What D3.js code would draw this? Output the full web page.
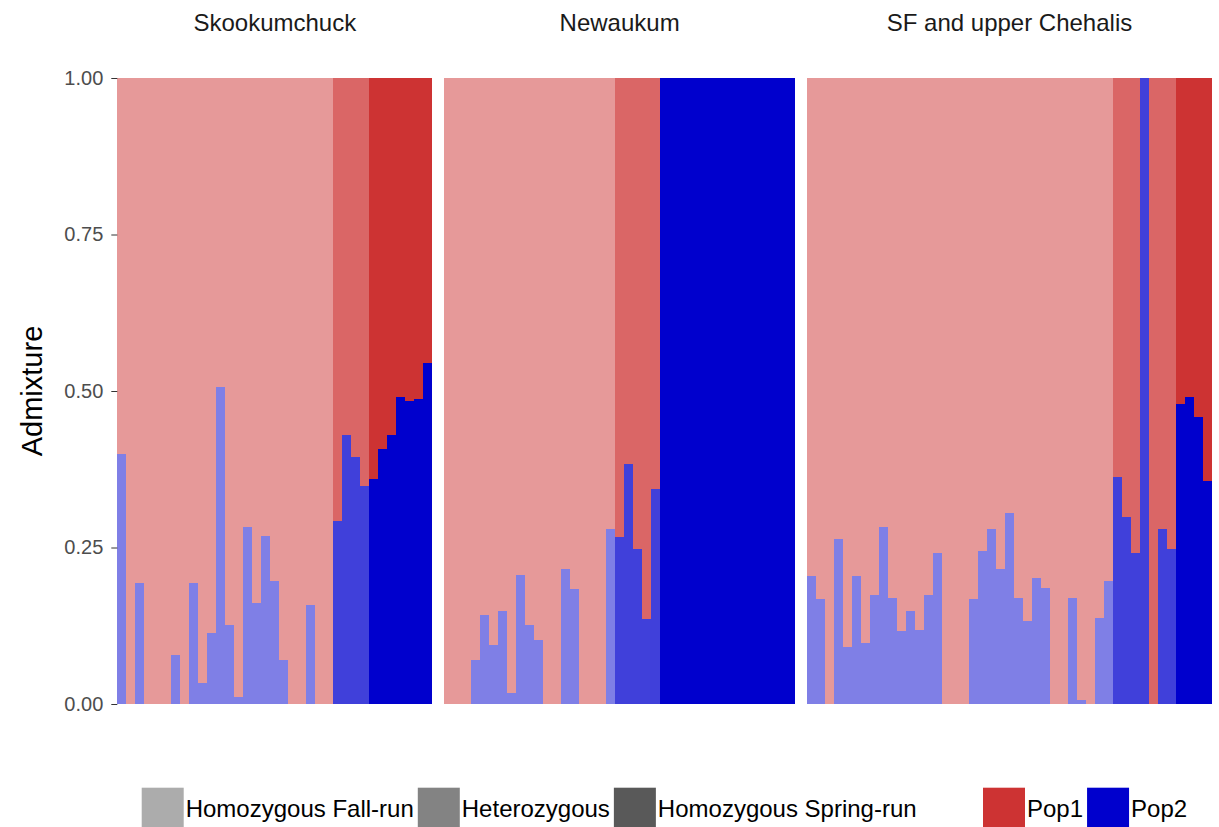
<!DOCTYPE html>
<html>
<head>
<meta charset="utf-8">
<script src="https://cdn.jsdelivr.net/npm/d3@7"></script>
<style>
  body { margin: 0; background: #fff; }
  text { font-family: "Liberation Sans", Arial, sans-serif; }
</style>
</head>
<body>
<div id="chart"></div>
<script>
// panels (facets) in order
var panels = ["Skookumchuck", "Newaukum", "SF and upper Chehalis"];

// Pop2 admixture proportion per individual (Pop1 = 1 - Pop2)
var pop2Skook = [0.400, 0, 0.193, 0, 0, 0, 0.078, 0, 0.193, 0.033, 0.113, 0.506, 0.126, 0.011,
  0.282, 0.161, 0.269, 0.196, 0.071, 0, 0, 0.158, 0, 0,
  0.292, 0.429, 0.394, 0.349,
  0.359, 0.407, 0.429, 0.490, 0.484, 0.487, 0.544];
var pop2Newa = [0, 0, 0, 0.071, 0.142, 0.094, 0.148, 0.017, 0.206, 0.126, 0.103, 0, 0, 0.215,
  0.183, 0, 0, 0, 0.279,
  0.266, 0.384, 0.247, 0.135, 0.343,
  1, 1, 1, 1, 1, 1, 1, 1, 1, 1, 1, 1, 1, 1, 1];
var pop2SF = [0.204, 0.167, 0, 0.263, 0.091, 0.204, 0.097, 0.174, 0.282, 0.170, 0.116, 0.148,
  0.119, 0.174, 0.241, 0, 0, 0, 0.167, 0.244, 0.279, 0.215, 0.305, 0.170, 0.132, 0.202,
  0.186, 0, 0, 0.170, 0.006, 0, 0.138, 0.196,
  0.362, 0.298, 0.241, 1, 0, 0.279, 0.247,
  0.480, 0.490, 0.458, 0.356];

// genotype per individual: F = homozygous fall-run, H = heterozygous, S = homozygous spring-run
var genoSkook = "FFFFFFFFFFFFFFFFFFFFFFFFHHHHSSSSSSS".split("");
var genoNewa = "FFFFFFFFFFFFFFFFFFFHHHHHSSSSSSSSSSSSSSS".split("");
var genoSF = "FFFFFFFFFFFFFFFFFFFFFFFFFFFFFFFFFFHHHHHHHSSSS".split("");

var genoKeys = ["F", "H", "S"];
var genoLabels = ["Homozygous Fall-run", "Heterozygous", "Homozygous Spring-run"];
var popLabels = ["Pop1", "Pop2"];
var yTicks = [0, 0.25, 0.5, 0.75, 1];

var pop2Lists = [pop2Skook, pop2Newa, pop2SF];
var genoLists = [genoSkook, genoNewa, genoSF];

var W = 1219, H = 827;
var plotLeft = 117.3, plotRight = 1212, plotTop = 78, plotBottom = 704;
var gap = 11.8;

var svg = d3.select("#chart").append("svg")
    .attr("width", W)
    .attr("height", H);

var popColor = d3.scaleOrdinal().domain(popLabels).range(["#CD3333", "#0000CD"]);
var alpha = d3.scaleOrdinal().domain(genoKeys).range([0.5, 0.75, 1]);

var y = d3.scaleLinear().domain([0, 1]).range([plotBottom, plotTop]);

var nTotal = d3.sum(pop2Lists, function (d) { return d.length; });
var barW = (plotRight - plotLeft - gap * (panels.length - 1)) / nTotal;

var x0 = plotLeft;
panels.forEach(function (name, p) {
    var vals = pop2Lists[p];
    var geno = genoLists[p];
    var rows = vals.map(function (v, i) { return { i: i, pop2: v, g: geno[i] }; });
    var x1 = x0 + vals.length * barW;

    var x = d3.scaleBand()
        .domain(d3.range(vals.length))
        .range([x0, x1])
        .padding(0);

    var g = svg.append("g");

    // Pop1 on top
    g.selectAll(".p1")
        .data(rows)
        .enter()
        .append("rect")
        .attr("x", function (d) { return x(d.i); })
        .attr("width", x.bandwidth())
        .attr("y", y(1))
        .attr("height", function (d) { return y(d.pop2) - y(1); })
        .attr("fill", popColor("Pop1"))
        .attr("fill-opacity", function (d) { return alpha(d.g); })
        .attr("shape-rendering", "crispEdges");

    // Pop2 at the bottom
    g.selectAll(".p2")
        .data(rows)
        .enter()
        .append("rect")
        .attr("x", function (d) { return x(d.i); })
        .attr("width", x.bandwidth())
        .attr("y", function (d) { return y(d.pop2); })
        .attr("height", function (d) { return y(0) - y(d.pop2); })
        .attr("fill", popColor("Pop2"))
        .attr("fill-opacity", function (d) { return alpha(d.g); })
        .attr("shape-rendering", "crispEdges");

    // strip title
    svg.append("text")
        .attr("x", (x0 + x1) / 2)
        .attr("y", 31)
        .attr("text-anchor", "middle")
        .style("font-size", "24px")
        .style("fill", "#1A1A1A")
        .text(name);

    x0 = x1 + gap;
});

// y axis
var yAxis = svg.append("g")
    .attr("transform", "translate(" + plotLeft + ",0)")
    .call(d3.axisLeft(y).tickValues(yTicks).tickFormat(d3.format(".2f")).tickSize(6).tickPadding(8));
yAxis.select(".domain").remove();
yAxis.selectAll(".tick line").attr("stroke", "#333333");
yAxis.selectAll(".tick text")
    .style("font-size", "20px")
    .style("font-family", "'Liberation Sans', Arial, sans-serif")
    .attr("fill", "#4D4D4D");

svg.append("text")
    .attr("transform", "translate(42," + ((plotTop + plotBottom) / 2) + ") rotate(-90)")
    .attr("text-anchor", "middle")
    .style("font-size", "29px")
    .style("fill", "#000")
    .text("Admixture");

// legends
var keyW = 42, keyH = 42, keyTop = 787.7;

function legend(items, colors, startX) {
    var cx = startX;
    items.forEach(function (label, i) {
        svg.append("rect")
            .attr("x", cx)
            .attr("y", keyTop)
            .attr("width", keyW)
            .attr("height", keyH)
            .attr("fill", colors[i]);
        var t = svg.append("text")
            .attr("x", cx + keyW + 2)
            .attr("y", keyTop + 29)
            .style("font-size", "24px")
            .style("fill", "#000")
            .text(label);
        cx += keyW + 2 + t.node().getComputedTextLength() + 4;
    });
}

legend(genoLabels, genoKeys.map(function (k) {
    return d3.interpolateRgb("#FFFFFF", "#595959")(alpha(k));
}), 141.7);
legend(popLabels, popLabels.map(function (k) { return popColor(k); }), 983);
</script>
</body>
</html>
